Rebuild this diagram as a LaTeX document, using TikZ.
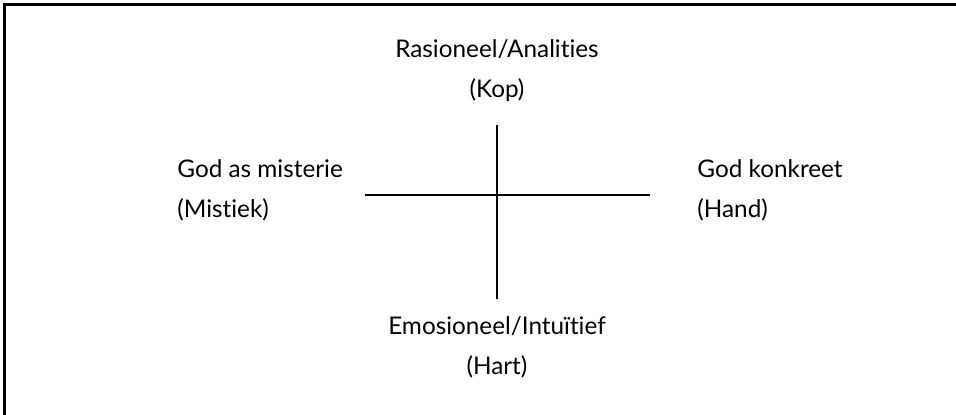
\documentclass[tikz,border=0pt]{standalone}
\usepackage{fontspec}
\setmainfont{Lato}[Ligatures=NoCommon]
\usetikzlibrary{positioning}

\begin{document}
\begin{tikzpicture}[
        x=0.5bp, y=-0.5bp,
        lbl/.style={font=\fontsize{12.2}{14}\selectfont, inner sep=0pt, anchor=base},
        lbll/.style={lbl, anchor=base west},
        rule/.style={line width=1.2bp},
    ]
    \useasboundingbox (0,0) rectangle (956,415);

    % Frame (only top and left edges show)
    \coordinate (frametl) at (4.5,5);
    \coordinate (framet) at (956,5);
    \coordinate (framel) at (4.5,415);
    \draw[rule, line width=1.5bp] (framel) -- (frametl) -- (framet);

    % Cross
    \coordinate (kruisn) at (497,125);
    \coordinate (kruiss) at (497,299);
    \coordinate (kruisw) at (365,195);
    \coordinate (kruise) at (650,195);
    \draw[rule] (kruisn) -- (kruiss);
    \draw[rule] (kruisw) -- (kruise);

    % Top
    \node[lbl] (rasioneel) at (497,58) {Rasioneel/Analities};
    \node[lbl] (kop) at (497,98) {(Kop)};
    % Left
    \node[lbll] (misterie) at (177,178) {God as misterie};
    \node[lbll] (mistiek) at (177,218) {(Mistiek)};
    % Right
    \node[lbll] (konkreet) at (697,178) {God konkreet};
    \node[lbll] (hand) at (697,218) {(Hand)};
    % Bottom
    \node[lbl] (emosioneel) at (497,335) {Emosioneel/Intuïtief};
    \node[lbl] (hart) at (497,375) {(Hart)};
\end{tikzpicture}
\end{document}
